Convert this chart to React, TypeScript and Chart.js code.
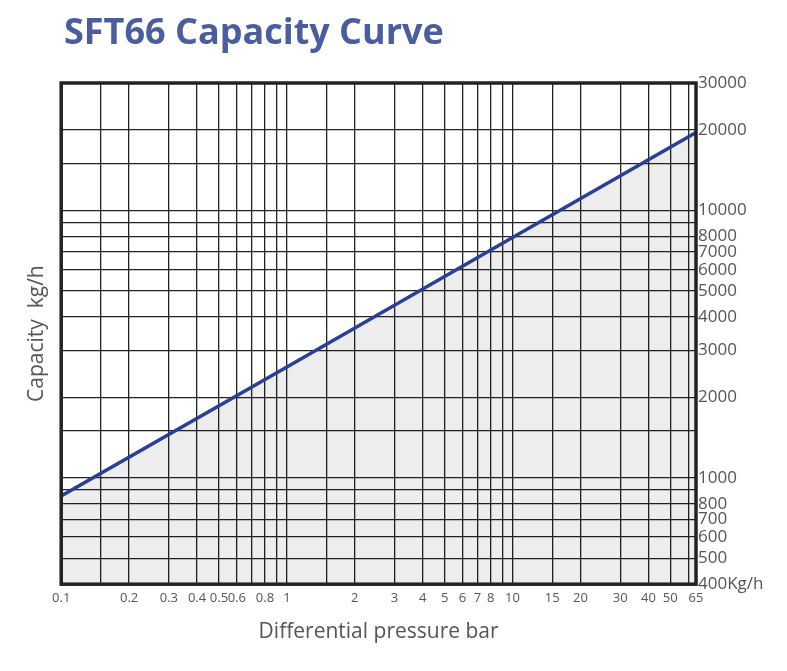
import { useEffect, useRef } from "react"
import Chart from "chart.js/auto"

const pressure = [0.1, 1, 10, 65]
const capacity = [855, 2600, 7930, 19600]

const xGrid = [0.1, 0.15, 0.2, 0.3, 0.4, 0.5, 0.6, 0.7, 0.8, 0.9, 1, 1.5, 2, 3, 4, 5, 6, 7, 8, 9, 10, 15, 20, 30, 40, 50, 60, 65]
const xLabels = [0.1, 0.2, 0.3, 0.4, 0.5, 0.6, 0.8, 1, 2, 3, 4, 5, 6, 7, 8, 10, 15, 20, 30, 40, 50, 65]
const yGrid = [400, 500, 600, 700, 800, 900, 1000, 1500, 2000, 3000, 4000, 5000, 6000, 7000, 8000, 9000, 10000, 15000, 20000, 30000]
const yLabels = [400, 500, 600, 700, 800, 1000, 2000, 3000, 4000, 5000, 6000, 7000, 8000, 10000, 20000, 30000]

const FONT = "'Open Sans', 'Noto Sans', sans-serif"

export default function App() {
  const canvasRef = useRef<HTMLCanvasElement | null>(null)

  useEffect(() => {
    document.body.style.margin = "0"
    if (!canvasRef.current) return

    const frame = {
      id: "frame",
      afterDatasetsDraw(chart: any) {
        const { ctx, chartArea: a } = chart
        ctx.save()
        ctx.strokeStyle = "#222"
        ctx.lineWidth = 3.5
        ctx.strokeRect(a.left, a.top, a.right - a.left, a.bottom - a.top)
        // heading
        ctx.fillStyle = "#4a5d9e"
        ctx.font = `bold 36px ${FONT}`
        ctx.textBaseline = "middle"
        ctx.fillText("SFT66 Capacity Curve", 64, 34)
        ctx.restore()
      },
    }

    const chart = new Chart(canvasRef.current, {
      type: "line",
      data: {
        labels: pressure,
        datasets: [
          {
            data: pressure.map((p, i) => ({ x: p, y: capacity[i] })),
            borderColor: "#2a3f96",
            borderWidth: 3.5,
            pointRadius: 0,
            fill: "start",
            backgroundColor: "rgba(0,0,0,0.07)",
            yAxisID: "y",
          },
        ],
      },
      options: {
        animation: false,
        responsive: false,
        layout: { padding: { left: 20, right: 8, top: 83, bottom: 22 } },
        plugins: {
          legend: { display: false },
          tooltip: { enabled: false },
        },
        scales: {
          x: {
            type: "logarithmic",
            min: 0.1,
            max: 65,
            afterBuildTicks: (axis: any) => {
              axis.ticks = xGrid.map((v) => ({ value: v }))
            },
            ticks: {
              autoSkip: false,
              maxRotation: 0,
              padding: 6,
              color: "#555",
              font: { family: FONT, size: 13 },
              callback: (v: any) => (xLabels.includes(Number(v)) ? String(v) : ""),
            },
            grid: { color: "#222", lineWidth: 1.3, drawTicks: false },
            border: { display: false },
            title: {
              display: true,
              text: "Differential pressure bar",
              color: "#555",
              font: { family: FONT, size: 21 },
              padding: { top: 8 },
            },
          },
          y: {
            type: "logarithmic",
            position: "right",
            min: 400,
            max: 30000,
            afterBuildTicks: (axis: any) => {
              axis.ticks = yGrid.map((v) => ({ value: v }))
            },
            afterFit: (axis: any) => {
              axis.width = 83
            },
            ticks: {
              autoSkip: false,
              color: "#555",
              padding: 2,
              font: { family: FONT, size: 17 },
              callback: (v: any) => {
                const n = Number(v)
                if (!yLabels.includes(n)) return ""
                return n === 400 ? "400Kg/h" : String(n)
              },
            },
            grid: { color: "#222", lineWidth: 1.3, drawTicks: false },
            border: { display: false },
          },
          yL: {
            type: "logarithmic",
            position: "left",
            min: 400,
            max: 30000,
            ticks: { display: false },
            grid: { display: false },
            border: { display: false },
            title: {
              display: true,
              text: "Capacity  kg/h",
              color: "#555",
              font: { family: FONT, size: 21 },
              padding: { bottom: 4 },
            },
          },
        },
      },
      plugins: [frame],
    } as any)

    return () => chart.destroy()
  }, [])

  return <canvas ref={canvasRef} width={787} height={671} style={{ display: "block" }} />
}
